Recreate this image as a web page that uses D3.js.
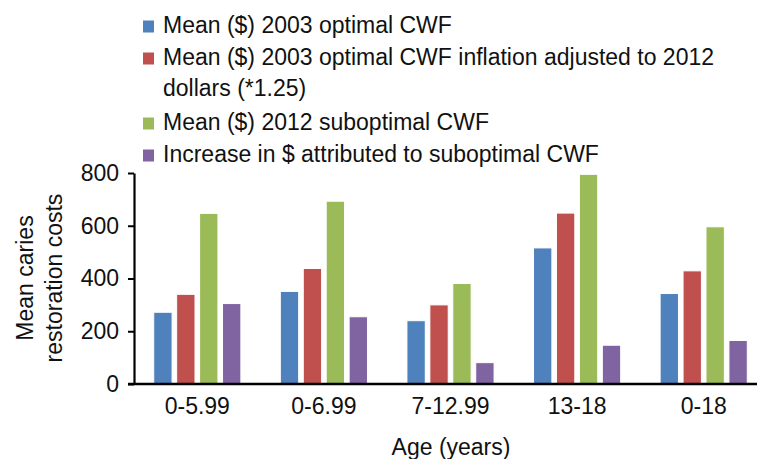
<!DOCTYPE html>
<html>
<head>
<meta charset="utf-8">
<script src="https://cdn.jsdelivr.net/npm/d3@7"></script>
<style>
  body { margin: 0; background: #fff; }
  svg text { font-family: "Liberation Sans", Arial, sans-serif; fill: #111; }
</style>
</head>
<body>
<div id="chart"></div>
<script>
const ageGroups = ['0-5.99', '0-6.99', '7-12.99', '13-18', '0-18'];
const seriesNames = [
  'Mean ($) 2003 optimal CWF',
  'Mean ($) 2003 optimal CWF inflation adjusted to 2012 dollars (*1.25)',
  'Mean ($) 2012 suboptimal CWF',
  'Increase in $ attributed to suboptimal CWF'
];
const legendLines = [
  ['Mean ($) 2003 optimal CWF'],
  ['Mean ($) 2003 optimal CWF inflation adjusted to 2012', 'dollars (*1.25)'],
  ['Mean ($) 2012 suboptimal CWF'],
  ['Increase in $ attributed to suboptimal CWF']
];
const colors = ['#4f81bd', '#c0504d', '#9bbb59', '#8064a2'];

const mean2003 = [272, 351, 240, 516, 343];
const mean2003Adj = [340, 438, 300, 648, 429];
const mean2012 = [647, 693, 381, 795, 596];
const increase = [305, 255, 81, 147, 165];
const seriesValues = [mean2003, mean2003Adj, mean2012, increase];

const yTicks = [0, 200, 400, 600, 800];

const width = 757, height = 459;
const svg = d3.select('#chart').append('svg')
  .attr('width', width)
  .attr('height', height);

const x0 = d3.scaleBand().domain(ageGroups).range([134, 767]);
const x1 = d3.scaleBand().domain(d3.range(seriesNames.length))
  .range([0, x0.bandwidth()])
  .paddingInner(0.2)
  .paddingOuter(0.86);
const y = d3.scaleLinear().domain([0, 800]).range([384, 173]);

// bars
const groups = svg.append('g').selectAll('g')
  .data(ageGroups)
  .join('g')
  .attr('transform', d => `translate(${x0(d)},0)`);

groups.selectAll('rect')
  .data((g, gi) => seriesValues.map((s, si) => ({ si, v: s[gi] })))
  .join('rect')
  .attr('x', d => x1(d.si))
  .attr('width', x1.bandwidth())
  .attr('y', d => y(d.v))
  .attr('height', d => y(0) - y(d.v))
  .attr('fill', d => colors[d.si])
  .attr('stroke', '#fff')
  .attr('stroke-width', 1);

// y axis
const yAxis = svg.append('g')
  .attr('transform', 'translate(134,0)')
  .call(d3.axisLeft(y).tickValues(yTicks).tickSize(6).tickPadding(9).tickSizeOuter(0));
yAxis.select('.domain').attr('stroke', '#000').attr('stroke-width', 2.2);
yAxis.selectAll('.tick line').attr('stroke', '#000').attr('stroke-width', 2);
yAxis.selectAll('.tick text').attr('font-size', 23).style('font-family', '"Liberation Sans", Arial, sans-serif').attr('fill', '#111');

// x axis
const xAxis = svg.append('g')
  .attr('transform', 'translate(0,384)')
  .call(d3.axisBottom(x0).tickSize(0).tickPadding(14));
xAxis.select('.domain').attr('stroke', '#000').attr('stroke-width', 2.6)
  .attr('d', 'M128,0H757');
xAxis.selectAll('.tick text').attr('font-size', 23).style('font-family', '"Liberation Sans", Arial, sans-serif').attr('fill', '#111');

// axis titles
svg.append('text')
  .attr('x', 451).attr('y', 455)
  .attr('text-anchor', 'middle')
  .attr('font-size', 23)
  .text('Age (years)');

const yTitle = svg.append('text')
  .attr('transform', 'translate(33,278) rotate(-90)')
  .attr('text-anchor', 'middle')
  .attr('font-size', 23);
yTitle.append('tspan').attr('x', 0).attr('y', 0).text('Mean caries');
yTitle.append('tspan').attr('x', 0).attr('y', 29).text('restoration costs');

// legend
const legendBaselines = [33, 65, 130, 162];
const legend = svg.append('g').selectAll('g')
  .data(legendLines)
  .join('g')
  .attr('transform', (d, i) => `translate(143,${legendBaselines[i]})`);

legend.append('rect')
  .attr('x', 0).attr('y', -12.5)
  .attr('width', 11).attr('height', 12)
  .attr('fill', (d, i) => colors[i]);

legend.append('text')
  .attr('font-size', 23)
  .selectAll('tspan')
  .data(d => d)
  .join('tspan')
  .attr('x', 20)
  .attr('y', (d, i) => i * 31)
  .text(d => d);
</script>
</body>
</html>
